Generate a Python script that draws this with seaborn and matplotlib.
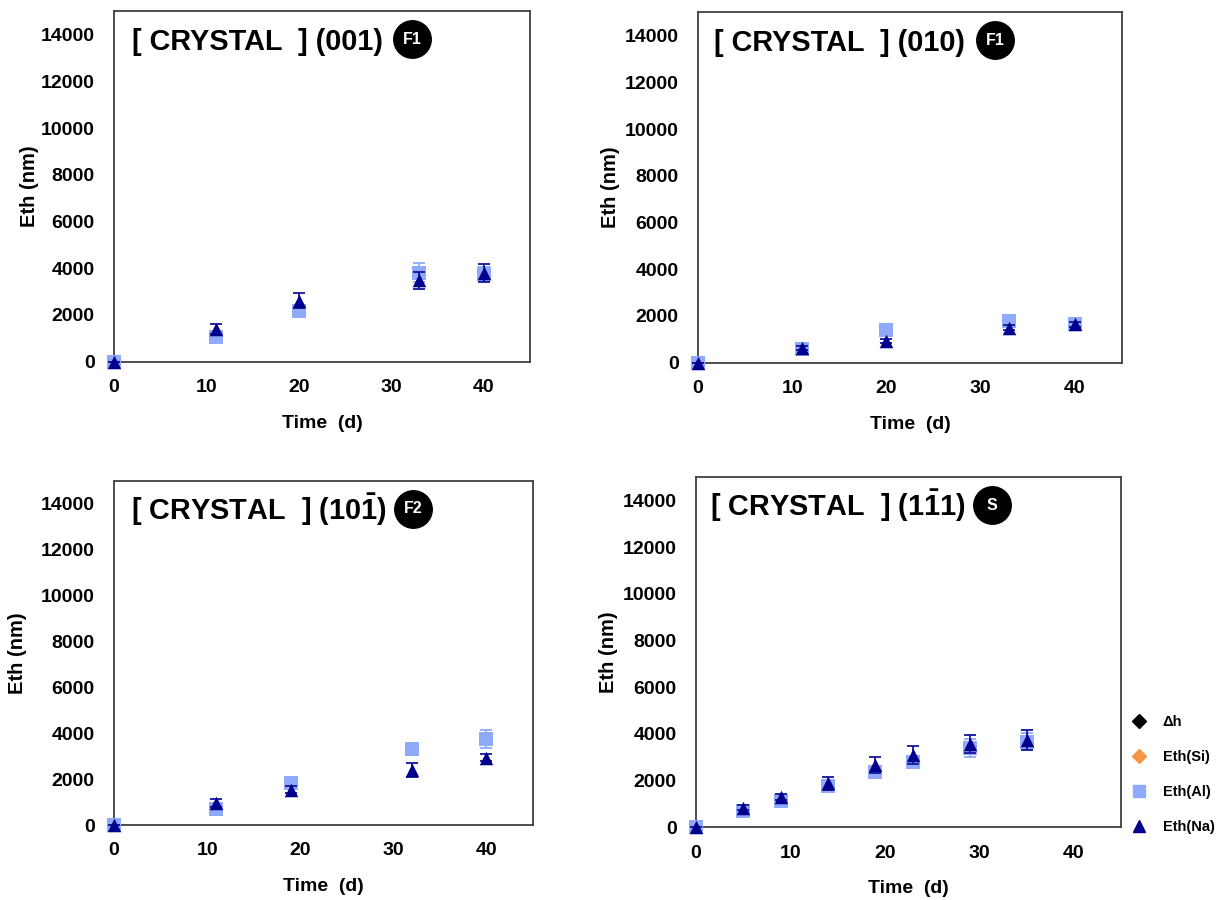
import numpy as np
import pandas as pd
import matplotlib
matplotlib.use("Agg")
import matplotlib.pyplot as plt
import seaborn as sns
from matplotlib.lines import Line2D
from matplotlib.transforms import ScaledTranslation

# ---- values ----
days_001 = [0, 11, 20, 33, 40]
al_001 = [0, 1040, 2170, 3810, 3750]
al_001_err = [0, 150, 150, 400, 300]
na_001 = [0, 1400, 2600, 3480, 3800]
na_001_err = [0, 230, 320, 370, 370]

days_010 = [0, 11, 20, 33, 40]
al_010 = [0, 570, 1400, 1800, 1655]
al_010_err = [0, 80, 100, 150, 120]
na_010 = [0, 630, 930, 1500, 1640]
na_010_err = [0, 80, 80, 100, 100]

days_10m1 = [0, 11, 19, 32, 40]
al_10m1 = [0, 680, 1810, 3320, 3750]
al_10m1_err = [0, 100, 150, 200, 400]
na_10m1 = [0, 970, 1540, 2390, 2930]
na_10m1_err = [0, 180, 150, 320, 150]

days_1m11 = [0, 5, 9, 14, 19, 23, 29, 35]
al_1m11 = [0, 710, 1130, 1760, 2370, 2790, 3390, 3670]
al_1m11_err = [0, 80, 100, 150, 150, 200, 390, 360]
na_1m11 = [0, 840, 1310, 1885, 2660, 3100, 3570, 3740]
na_1m11_err = [0, 100, 120, 290, 340, 390, 400, 430]

titles = ["[ CRYSTAL  ] (001)", "[ CRYSTAL  ] (010)",
          r"[ CRYSTAL  ] (10$\bar{1}$)", r"[ CRYSTAL  ] (1$\bar{1}$1)"]
badges = ["F1", "F1", "F2", "S"]
legend_labels = ["\u0394h", "Eth(Si)", "Eth(Al)", "Eth(Na)"]
x_ticks = [0, 10, 20, 30, 40]
y_ticks = [0, 2000, 4000, 6000, 8000, 10000, 12000, 14000]

AL_COL = "#8FAAFA"
NA_COL = "#00008C"
NA_ERR = "#1414A0"
SI_COL = "#F79646"

sns.set_style("white")
plt.rcParams["font.family"] = ["Liberation Sans", "DejaVu Sans"]
plt.rcParams["font.weight"] = "bold"
plt.rcParams["mathtext.default"] = "regular"

W, H = 1223, 900
fig = plt.figure(figsize=(W / 100, H / 100), dpi=100)

# panel boxes in pixels: left, top, right, bottom
boxes = [(114, 11.3, 530, 361.7), (698, 12.3, 1122, 362.7),
         (114, 480.7, 533, 825), (696, 477, 1121, 827.3)]
title_dx = [18, 16, 17, 14]
badge_dx = [298, 297, 299, 296]
ylab_dx = [75, 78, 87, 78]

panels = [
    (days_001, al_001, al_001_err, na_001, na_001_err),
    (days_010, al_010, al_010_err, na_010, na_010_err),
    (days_10m1, al_10m1, al_10m1_err, na_10m1, na_10m1_err),
    (days_1m11, al_1m11, al_1m11_err, na_1m11, na_1m11_err),
]

for i, (days, al, al_err, na, na_err) in enumerate(panels):
    l, t, r, b = boxes[i]
    wpx, hpx = r - l, b - t
    ax = fig.add_axes([l / W, 1 - b / H, wpx / W, hpx / H])

    ax.errorbar(days, al, yerr=al_err, fmt="none", ecolor=AL_COL,
                elinewidth=1.3, capsize=4, capthick=1.3, clip_on=False, zorder=2)
    ax.errorbar(days, na, yerr=na_err, fmt="none", ecolor=NA_ERR,
                elinewidth=1.3, capsize=4, capthick=1.3, clip_on=False, zorder=4)

    df = pd.DataFrame({
        "time": list(days) + list(days),
        "eth": list(al) + list(na),
        "series": ["Eth(Al)"] * len(days) + ["Eth(Na)"] * len(days),
    })
    sns.scatterplot(data=df[df.series == "Eth(Al)"], x="time", y="eth",
                    marker="s", color=AL_COL, s=95, linewidth=0,
                    clip_on=False, zorder=3, ax=ax, legend=False)
    sns.scatterplot(data=df[df.series == "Eth(Na)"], x="time", y="eth",
                    marker="^", color=NA_COL, s=95, linewidth=0,
                    clip_on=False, zorder=5, ax=ax, legend=False)

    ax.set_xlim(0, 45)
    ax.set_ylim(0, 15000)
    ax.set_xticks(x_ticks)
    ax.set_yticks(y_ticks)
    ax.tick_params(direction="in", length=6, width=1.2, color="#404040",
                   labelsize=14, labelcolor="black")
    ax.tick_params(axis="x", pad=12.5)
    ax.tick_params(axis="y", pad=14)
    for lab in ax.get_xticklabels() + ax.get_yticklabels():
        lab.set_fontweight("bold")
    for sp in ax.spines.values():
        sp.set_color("#404040")
        sp.set_linewidth(1.3)

    ax.set_xlabel("Time  (d)", fontsize=14, fontweight="bold", va="top",
                  color="black")
    ax.set_ylabel("Eth (nm)", fontsize=14.5, fontweight="bold", color="black")
    ax.xaxis.set_label_coords(0.5, -53 / hpx)
    ax.yaxis.set_label_coords(-ylab_dx[i] / wpx, 0.5)

    tr = ax.transAxes + ScaledTranslation(title_dx[i] / 100, -39 / 100,
                                          fig.dpi_scale_trans)
    ax.text(0, 1, titles[i], transform=tr, fontsize=20.8, fontweight="bold",
            ha="left", va="baseline", color="black")
    tb = ax.transAxes + ScaledTranslation(badge_dx[i] / 100, -28 / 100,
                                          fig.dpi_scale_trans)
    ax.plot([0], [1], marker="o", ms=27, color="black", transform=tb,
            clip_on=False, zorder=6)
    ax.text(0, 1, badges[i], transform=tb, fontsize=11.5, fontweight="bold",
            color="white", ha="center", va="center", zorder=7)

handles = [
    Line2D([], [], ls="none", marker="D", ms=7, color="black"),
    Line2D([], [], ls="none", marker="D", ms=7, color=SI_COL),
    Line2D([], [], ls="none", marker="s", ms=8, color=AL_COL),
    Line2D([], [], ls="none", marker="^", ms=8.5, color=NA_COL),
]
fig.legend(handles, legend_labels, loc="upper left",
           bbox_to_anchor=(1132 / W, 1 - 715 / H), frameon=False,
           prop={"size": 10.5, "weight": "bold"}, labelcolor="black",
           handlelength=1.0, handletextpad=1.1, labelspacing=1.45,
           borderpad=0, borderaxespad=0)

plt.savefig("out.png", dpi=100, facecolor="white")
plt.close()
